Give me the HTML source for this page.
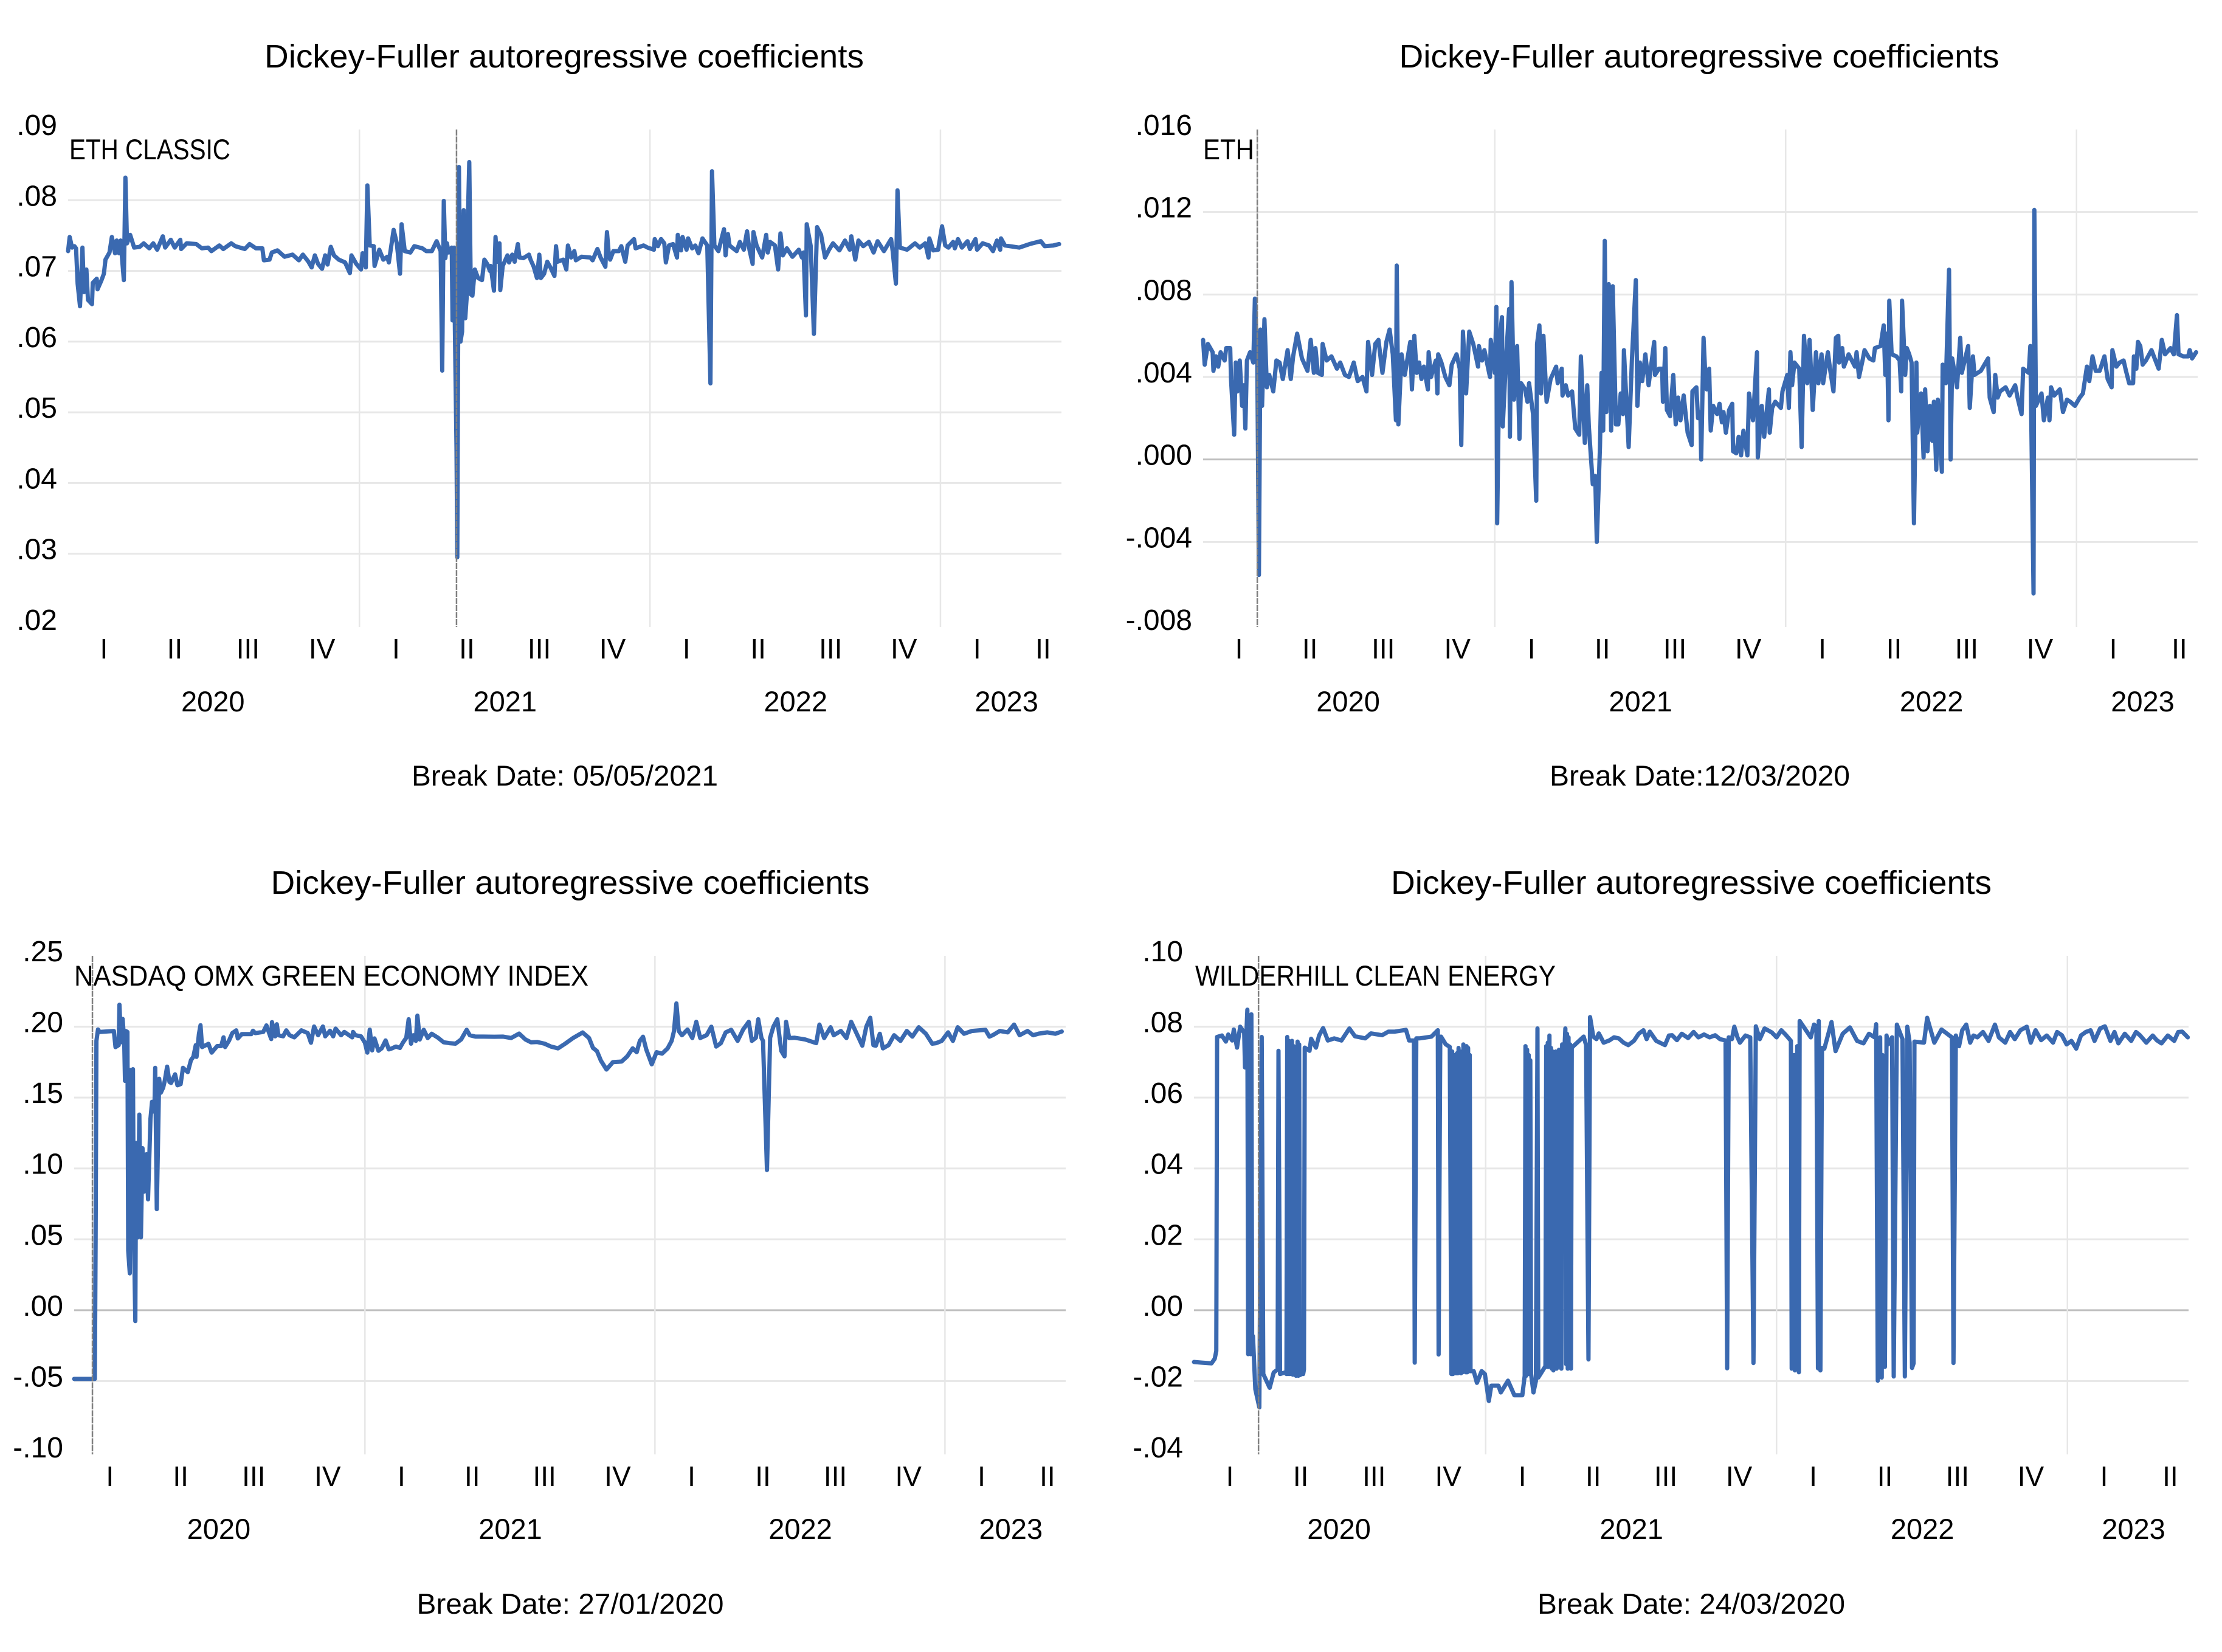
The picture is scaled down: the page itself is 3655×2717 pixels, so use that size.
<!DOCTYPE html>
<html lang="en">
<head>
<meta charset="utf-8">
<title>Dickey-Fuller autoregressive coefficients</title>
<style>
html,body{margin:0;padding:0;background:#fff;}
svg{display:block;}
text{font-family:"Liberation Sans",sans-serif;fill:#000;}
</style>
</head>
<body>
<svg id="figure" xmlns="http://www.w3.org/2000/svg" width="3655" height="2717" viewBox="0 0 3655 2717">
  <rect x="0" y="0" width="3655" height="2717" fill="#ffffff"/>

  <g id="panel-classic"></g>
  <g id="panel-eth"></g>
  <g id="panel-nasdaq"></g>
  <g id="panel-wilder"></g>

  <text x="928" y="111" text-anchor="middle" font-size="54" textLength="986" lengthAdjust="spacingAndGlyphs">Dickey-Fuller autoregressive coefficients</text>
  <text x="2795" y="111" text-anchor="middle" font-size="54" textLength="987" lengthAdjust="spacingAndGlyphs">Dickey-Fuller autoregressive coefficients</text>
  <text x="938" y="1470" text-anchor="middle" font-size="54" textLength="985" lengthAdjust="spacingAndGlyphs">Dickey-Fuller autoregressive coefficients</text>
  <text x="2782" y="1470" text-anchor="middle" font-size="54" textLength="988" lengthAdjust="spacingAndGlyphs">Dickey-Fuller autoregressive coefficients</text>

  <text x="114" y="262" font-size="47" textLength="265" lengthAdjust="spacingAndGlyphs">ETH CLASSIC</text>
  <text x="1979" y="262" font-size="47" textLength="84" lengthAdjust="spacingAndGlyphs">ETH</text>
  <text x="122" y="1621" font-size="47" textLength="846" lengthAdjust="spacingAndGlyphs">NASDAQ OMX GREEN ECONOMY INDEX</text>
  <text x="1966" y="1621" font-size="47" textLength="593" lengthAdjust="spacingAndGlyphs">WILDERHILL CLEAN ENERGY</text>

  <text x="929" y="1292" text-anchor="middle" font-size="47" textLength="504" lengthAdjust="spacingAndGlyphs">Break Date: 05/05/2021</text>
  <text x="2796" y="1292" text-anchor="middle" font-size="47" textLength="494" lengthAdjust="spacingAndGlyphs">Break Date:12/03/2020</text>
  <text x="938" y="2654" text-anchor="middle" font-size="47" textLength="505" lengthAdjust="spacingAndGlyphs">Break Date: 27/01/2020</text>
  <text x="2782" y="2654" text-anchor="middle" font-size="47" textLength="506" lengthAdjust="spacingAndGlyphs">Break Date: 24/03/2020</text>
</svg>

<script>
/* Shared time axis: day number counted from 1 January 2020 */
const lastDay = 1248;
const quarterLabels = ["I","II","III","IV","I","II","III","IV","I","II","III","IV","I","II"];
const quarterDays = [45,134,226,319,412,501,592,684,777,867,958,1050,1142,1225];
const yearLabels = ["2020","2021","2022","2023"];
const yearLabelDays = [182,549,914,1179];
const yearStartDays = [366,731,1096];

/* ETH CLASSIC */
const classicTicks = [.09,.08,.07,.06,.05,.04,.03,.02];
const classicTickLabels = [".09",".08",".07",".06",".05",".04",".03",".02"];
const classicBreakDay = 488;
const classicDays = [
0,2,5,8,10,12,15,18,20,23,
25,30,31,36,37,42,45,47,52,55,
59,61,64,66,70,72,74,78,83,90,
95,102,107,112,119,122,129,134,141,142,
149,161,168,176,180,190,195,205,210,222,
228,236,244,246,253,256,263,272,282,290,
295,302,306,310,314,319,323,326,330,334,
340,348,354,356,362,368,370,374,376,379,
384,385,391,396,401,403,409,413,417,419,
423,430,435,445,450,457,463,468,470,472,
474,476,478,482,483,485,486,488,489,490,
491,493,495,497,499,501,502,504,506,508,
511,515,520,523,527,530,531,535,537,539,
542,543,546,552,554,558,561,565,567,572,
579,581,585,589,592,594,598,602,606,611,
613,615,622,626,628,632,636,638,645,656,
659,665,669,675,677,679,681,685,692,695,
700,703,711,713,723,728,736,737,741,745,
749,751,755,760,765,766,770,772,777,779,
784,788,792,797,803,807,809,812,817,824,
826,829,831,840,844,849,853,856,860,861,
865,872,877,879,882,888,892,895,898,903,
910,918,922,924,927,928,933,937,941,946,
951,956,961,969,976,982,984,989,993,999,
1006,1012,1017,1025,1034,1036,1040,1042,1045,1054,
1064,1070,1077,1081,1082,1087,1093,1098,1102,1106,
1112,1114,1118,1123,1130,1133,1140,1142,1149,1157,
1162,1167,1171,1172,1177,1195,1208,1222,1227,1238,
1245];
const classicValues = [
.0728,.0748,.0733,.0735,.0732,.0682,.065,.0733,.067,.0702,
.0659,.0653,.0683,.0689,.0674,.0687,.0696,.0716,.0726,.0748,
.0725,.0743,.0725,.0743,.0687,.0832,.0739,.0751,.0733,.0734,
.0739,.0732,.0739,.073,.0749,.0733,.0744,.0733,.0744,.0731,
.0739,.0738,.0732,.0733,.0728,.0736,.0731,.0739,.0735,.0731,
.0738,.0732,.0732,.0715,.0716,.0726,.0729,.072,.0723,.0715,
.0723,.0713,.0705,.0722,.071,.0703,.0722,.0709,.0734,.0722,
.0716,.0712,.0697,.0722,.071,.0702,.0725,.0705,.0821,.0736,
.0735,.0707,.073,.0716,.072,.0712,.0758,.0739,.0696,.0766,
.0728,.0726,.0735,.0732,.0728,.0728,.0742,.0728,.0559,.0799,
.0718,.0739,.0726,.0733,.063,.0733,.0616,.045,.0295,.06,
.0847,.06,.0614,.0786,.0633,.0667,.0762,.0854,.0667,.0665,
.0702,.069,.0687,.0716,.0709,.07,.0707,.0672,.0748,.0713,
.0739,.0673,.0707,.0722,.0712,.0723,.0713,.0738,.0719,.0718,
.0723,.0716,.0706,.069,.0723,.069,.0696,.0713,.0705,.0693,
.0735,.0713,.0716,.0702,.0736,.0719,.0728,.0715,.072,.0719,
.0715,.0731,.0719,.0706,.0755,.0728,.0716,.0728,.0728,.0735,
.0713,.0736,.0745,.0732,.0736,.0733,.073,.0745,.0735,.0745,
.0739,.0712,.0736,.0738,.0719,.0751,.0729,.0748,.073,.0746,
.0732,.0736,.0725,.0746,.0736,.0541,.0841,.0736,.0728,.0759,
.0722,.0752,.0736,.0728,.0741,.073,.0756,.073,.071,.0755,
.0736,.0719,.0751,.0726,.0741,.0736,.0702,.0753,.0722,.0732,
.072,.073,.0719,.0726,.0637,.0766,.0735,.0611,.0762,.0751,
.0719,.073,.0739,.0729,.0743,.073,.0749,.0716,.0743,.0735,
.0741,.0726,.0742,.0728,.0745,.0728,.0682,.0814,.0733,.073,
.0739,.0733,.0739,.0719,.0746,.0729,.073,.0763,.0736,.0733,
.0741,.0732,.0745,.0733,.0742,.0731,.0745,.073,.0739,.0736,
.0728,.0743,.073,.0746,.0736,.0733,.0738,.0742,.0735,.0736,
.0738];

/* ETH */
const ethTicks = [.016,.012,.008,.004,0,-.004,-.008];
const ethTickLabels = [".016",".012",".008",".004",".000","-.004","-.008"];
const ethBreakDay = 68;
const ethDays = [
0,2,6,12,13,16,19,22,27,29,
34,35,39,41,43,46,49,51,53,55,
59,63,65,68,70,72,74,77,80,83,
88,92,96,100,106,110,113,118,124,131,
135,139,141,144,149,150,155,161,168,172,
178,183,189,194,200,205,207,212,216,220,
225,230,234,238,242,243,245,249,253,260,
262,265,268,271,274,277,282,283,286,292,
294,295,299,304,309,312,318,322,324,326,
330,334,339,345,346,350,353,360,361,366,
368,369,372,375,376,380,384,385,387,390,
394,397,399,404,407,409,414,418,419,422,
424,427,431,436,443,445,450,451,455,458,
463,467,472,474,479,482,484,489,492,494,
498,500,502,504,506,509,512,514,518,521,
524,527,528,534,538,543,545,548,551,555,
559,566,567,572,576,577,580,582,586,590,
593,596,599,603,608,613,614,619,621,624,
625,628,630,632,635,637,640,645,648,651,
653,656,660,664,665,669,672,675,678,683,
685,690,695,696,701,704,710,711,714,718,
725,727,733,735,737,739,742,748,751,754,
758,761,765,769,772,776,778,784,787,791,
794,797,798,802,804,810,818,820,823,828,
830,836,841,843,850,854,856,858,860,861,
864,870,874,876,877,881,883,886,889,892,
895,896,901,904,906,909,912,915,917,920,
922,927,928,932,936,938,940,946,950,952,
960,962,966,968,976,985,987,992,994,997,
1000,1007,1012,1019,1022,1027,1029,1036,1038,1042,
1043,1045,1052,1055,1060,1062,1064,1068,1075,1079,
1084,1088,1094,1100,1104,1109,1112,1116,1120,1125,
1131,1135,1140,1141,1146,1150,1155,1158,1162,1167,
1168,1171,1173,1176,1179,1183,1190,1194,1199,1203,
1207,1214,1218,1222,1224,1230,1236,1238,1241,1246];
const ethValues = [
.0058,.0046,.0056,.0052,.0043,.005,.0045,.0052,.0048,.0054,
.0054,.0039,.0012,.0047,.0033,.0048,.0026,.0036,.0015,.0048,
.0052,.0047,.0078,.0049,-.0056,.0063,.0026,.0068,.0035,.0041,
.0033,.0048,.0047,.0039,.0053,.0039,.005,.0061,.0049,.0043,
.0058,.0042,.0054,.0042,.0041,.0056,.0048,.005,.0044,.0047,
.0041,.004,.0047,.0038,.004,.0033,.0057,.0041,.0056,.0058,
.0042,.0057,.0063,.0051,.0019,.0094,.0017,.0051,.0041,.0057,
.0034,.006,.0042,.0047,.0039,.0045,.0034,.0052,.004,.0048,
.0032,.0051,.0047,.004,.0036,.0046,.0051,.0044,.0007,.0062,
.0032,.0062,.0056,.0045,.0055,.0048,.0053,.004,.0058,.0042,
.0074,-.0031,.0058,.0069,.0016,.0048,.0073,.0011,.0086,.0029,
.0055,.001,.0037,.0034,.0028,.0037,.0022,-.002,.0056,.0065,
.0032,.006,.0028,.0039,.0045,.0037,.0044,.0031,.0036,.0031,
.0033,.0015,.0012,.005,.0008,.0036,.0016,-.0012,-.0008,-.004,
.0006,.0042,.0014,.0106,.0023,.0085,.0014,.0084,.0017,.0017,
.0032,.0022,.0053,.0006,.0048,.0087,.0026,.0047,.0038,.0051,
.0036,.0057,.0041,.0044,.0044,.0028,.0054,.0024,.0021,.0041,
.0017,.003,.0019,.0031,.0013,.0007,.0033,.0035,.002,.0023,
0,.0059,.0042,.0034,.0044,.0014,.0026,.0022,.0027,.0018,
.0023,.0013,.0024,.0027,.0004,.0003,.0011,.0002,.0014,.0002,
.0032,.0019,.0052,.0001,.0026,.0011,.0034,.0013,.0025,.0028,
.0025,.0033,.0041,.0025,.0052,.0036,.0047,.0044,.0006,.006,
.0037,.0058,.0024,.0052,.0037,.0051,.0037,.0052,.0043,.0033,
.0059,.006,.0047,.0054,.0045,.0051,.0045,.0052,.004,.0049,
.0053,.0049,.0048,.0054,.0055,.0065,.0041,.0061,.0019,.0077,
.0051,.005,.0048,.0033,.0077,.0041,.0054,.0051,.0047,-.0031,
.0047,.0013,.0032,.0001,.0034,.0004,.0026,.0009,.0028,-.0005,
.0029,-.0006,.0046,.0037,.0092,0,.0049,.0035,.0059,.0042,
.0055,.0025,.005,.0041,.0043,.0049,.003,.0023,.0041,.003,
.0033,.0035,.0031,.0036,.003,.0022,.0044,.0042,.0055,-.0065,
.0121,.0026,.0032,.0019,.003,.0019,.0035,.0031,.0034,.0023,
.0029,.0028,.0026,.003,.0032,.0045,.0038,.005,.0043,.0043,
.005,.0039,.0035,.0053,.0045,.0047,.0048,.0043,.0037,.0037,
.005,.0044,.0057,.0055,.0046,.0048,.0053,.0049,.0044,.0058,
.0051,.0054,.0051,.007,.0051,.005,.005,.0053,.0049,.0052];

/* NASDAQ OMX GREEN ECONOMY INDEX */
const nasdaqTicks = [.25,.20,.15,.10,.05,0,-.05,-.10];
const nasdaqTickLabels = [".25",".20",".15",".10",".05",".00","-.05","-.10"];
const nasdaqBreakDay = 23;
const nasdaqDays = [
0,26,27,28,30,32,50,52,56,57,
59,61,63,64,65,67,68,70,71,73,
74,75,77,78,80,82,84,86,88,91,
93,96,98,101,102,104,107,109,112,114,
117,120,122,127,130,134,137,143,147,150,
153,154,157,159,161,169,173,180,185,188,
190,195,199,204,206,211,223,225,228,238,
242,248,249,253,255,257,263,267,271,277,
286,294,298,302,307,313,316,322,326,329,
336,340,350,351,354,361,366,369,372,375,
378,383,387,392,396,400,405,410,414,418,
421,424,427,430,432,435,440,445,450,458,
465,472,480,487,494,498,505,515,529,540,
550,560,568,575,583,592,600,609,618,628,
640,648,653,658,663,670,678,689,696,703,
708,712,716,720,727,733,740,747,752,755,
758,761,765,772,778,783,788,796,802,808,
814,820,827,835,842,849,853,858,861,865,
867,872,876,880,885,890,894,896,900,907,
920,934,938,944,952,956,965,972,978,985,
992,997,1002,1006,1009,1014,1018,1025,1032,1040,
1048,1055,1063,1072,1080,1085,1092,1100,1106,1112,
1120,1130,1147,1152,1156,1165,1175,1183,1190,1200,
1207,1214,1225,1235,1243];
const nasdaqValues = [
-.0485,-.0485,.05,.19,.198,.1963,.197,.1856,.187,.2155,
.189,.2055,.19,.1618,.197,.1963,.042,.026,.1695,.0696,
.17,.06,-.0077,.118,.0514,.138,.0514,.1143,.0836,.11,
.0782,.135,.147,.14,.171,.0713,.1633,.1534,.157,.1618,
.1718,.161,.1603,.1664,.1587,.1595,.171,.168,.1764,.1787,
.187,.1787,.1948,.201,.1856,.1879,.1817,.1863,.1863,.1925,
.1856,.1902,.1955,.1974,.1917,.1948,.1948,.1971,.1955,.1963,
.2009,.1913,.2032,.1932,.2017,.194,.1932,.1974,.194,.1925,
.1974,.1955,.1887,.2001,.194,.2001,.1932,.1971,.1932,.1986,
.194,.1963,.1925,.1963,.194,.1932,.1887,.1817,.1979,.1833,
.1917,.183,.1847,.1903,.184,.1847,.186,.185,.189,.1922,
.2052,.188,.194,.19,.2078,.191,.1978,.192,.195,.1922,
.189,.1884,.188,.191,.1978,.194,.193,.193,.1929,.193,
.192,.1951,.191,.189,.1892,.188,.186,.1847,.188,.192,
.1959,.192,.185,.1828,.176,.1698,.175,.1754,.179,.1847,
.182,.19,.1929,.184,.1735,.182,.181,.1847,.19,.197,
.2164,.197,.194,.198,.192,.2034,.192,.194,.2,.186,
.1884,.196,.1978,.19,.198,.2034,.19,.1922,.2052,.192,
.19,.0989,.1922,.2,.2052,.183,.1791,.2034,.192,.1922,
.191,.1884,.2015,.192,.1996,.194,.197,.192,.2034,.195,
.1866,.2,.2063,.187,.1866,.195,.1847,.187,.194,.19,
.197,.193,.1996,.195,.188,.1884,.19,.196,.19,.1996,
.195,.197,.1978,.193,.194,.197,.196,.2015,.194,.197,
.194,.1951,.196,.195,.1966];

/* WILDERHILL CLEAN ENERGY */
const wilderTicks = [.10,.08,.06,.04,.02,0,-.02,-.04];
const wilderTickLabels = [".10",".08",".06",".04",".02",".00","-.02","-.04"];
const wilderBreakDay = 81;
const wilderDays = [
0,10,22,26,28,29,35,40,43,48,
50,54,58,63,64,67,68,70,71,72,
73,74,77,82,85,87,95,100,105,106,
108,114,116,117,118,119,120,121,122,123,
124,125,126,127,128,130,131,132,133,135,
137,138,139,145,147,153,157,162,168,176,
185,195,202,215,222,236,244,252,266,270,
276,277,279,283,298,306,307,309,310,316,
321,323,324,325,326,327,328,329,330,331,
332,333,334,335,336,337,338,339,340,341,
342,343,344,345,346,347,351,355,361,365,
370,373,382,385,394,402,412,415,416,417,
418,419,420,421,422,423,426,429,431,432,
441,442,443,444,445,446,447,448,449,450,
451,452,453,454,455,456,457,458,459,460,
461,462,463,464,465,466,467,468,469,470,
471,472,473,474,476,489,492,495,497,501,
505,508,514,521,527,533,539,545,552,558,
564,568,572,580,591,596,600,606,612,620,
627,633,640,647,654,660,667,669,671,675,
678,682,685,692,698,702,705,710,716,725,
731,737,743,749,750,753,754,757,759,760,
774,778,781,783,784,786,788,791,800,805,
814,823,832,840,847,854,856,858,861,863,
864,867,869,871,876,878,882,889,892,895,
898,901,903,904,916,920,929,938,951,953,
956,960,964,969,974,978,983,990,997,1005,
1010,1018,1024,1030,1037,1045,1050,1056,1063,1070,
1078,1083,1089,1095,1101,1107,1113,1119,1125,1130,
1137,1143,1150,1155,1160,1168,1176,1182,1187,1195,
1203,1208,1214,1222,1230,1235,1240,1247];
const wilderValues = [
-.0146,-.0148,-.015,-.0137,-.0115,.0771,.0775,.0758,.0778,.0761,
.0792,.0741,.08,.0783,.0685,.0848,-.0124,.082,-.0124,.0835,
-.0124,-.0073,-.0223,-.0274,.0771,-.018,-.0219,-.0176,-.0167,.0732,
-.018,-.0176,-.018,.0771,-.018,.076,-.018,.0755,-.018,.076,
-.0182,.0745,-.018,.074,-.0185,.0758,-.0185,.075,-.0183,-.018,
-.018,-.0167,.0741,.0732,.0766,.0741,.0775,.0796,.0761,.0767,
.0761,.0795,.0773,.0767,.0781,.0776,.0786,.0786,.0791,.0761,
.0761,-.0148,.0767,.0767,.0772,.079,-.0125,.0765,.0772,.075,
.0743,-.018,.073,-.018,.072,-.0178,.072,-.0178,.0725,-.0178,
.074,-.0175,.073,-.0178,.0725,-.0175,.075,-.0172,.0735,-.0175,
.0745,-.0175,.074,-.0172,.072,-.0172,-.0172,-.0205,-.0172,-.018,
-.0256,-.0213,-.0213,-.0232,-.0199,-.024,-.024,-.0185,.0745,-.0185,
.0735,-.018,.072,-.018,.0705,-.018,-.0232,-.02,.0795,-.019,
-.0158,.0745,-.016,.0755,-.016,.0775,-.014,.074,-.0165,.073,
-.017,.0725,-.0165,.073,-.0165,.072,-.016,.0735,-.015,.0735,
-.0165,.075,.0745,.065,.0745,.0795,-.0152,.078,-.0165,.077,
-.016,.075,-.0165,.074,.0745,.0772,.0748,-.0139,.0827,.0772,
.0765,.0781,.0755,.0761,.077,.0767,.0755,.0748,.076,.078,
.079,.0765,.0786,.076,.0748,.0775,.0776,.0762,.078,.0768,
.0785,.077,.0778,.077,.0776,.0765,.0761,-.0164,.077,.0765,
.08,.077,.0755,.0775,.077,-.0149,.0801,.0765,.0795,.0784,
.077,.079,.0776,.076,-.0165,.072,-.017,.0745,-.0175,.0816,
.077,.0806,.08,-.0164,.0816,-.017,.074,.0738,.0813,.0731,
.078,.0798,.076,.0753,.078,.077,.0807,-.0199,.077,-.019,
.072,-.016,.0775,.075,.077,-.0187,.0806,.0765,-.0187,.08,
.0755,-.0163,-.015,.0758,.0755,.0825,.0755,.0792,.077,-.0149,
.0775,.0745,.079,.0806,.0755,.0775,.077,.0785,.076,.0806,
.077,.0755,.0785,.0765,.079,.08,.0755,.079,.0762,.0775,
.0755,.0785,.0776,.075,.076,.0738,.0775,.0785,.079,.076,
.0795,.0801,.076,.0785,.0753,.078,.076,.0785,.0776,.0755,
.0775,.0762,.0753,.0775,.076,.0785,.0786,.077];

const SVG_NS = "http://www.w3.org/2000/svg";

function drawChart(panelId, box, ticks, tickLabels, zeroLine, days, values, breakDay) {
  const panel = document.getElementById(panelId);
  const xScale = function (day) {
    return box.left + (day / lastDay) * (box.right - box.left);
  };
  const yScale = function (value) {
    const hi = ticks[0];
    const lo = ticks[ticks.length - 1];
    return box.top + ((hi - value) / (hi - lo)) * (box.bottom - box.top);
  };

  for (let i = 0; i < ticks.length; i++) {
    const tickY = yScale(ticks[i]);
    if (i > 0 && i < ticks.length - 1) {
      const grid = document.createElementNS(SVG_NS, "line");
      
      
      grid.setAttribute("x1", box.left);
      grid.setAttribute("x2", box.right);
      grid.setAttribute("y1", tickY);
      grid.setAttribute("y2", tickY);
      grid.setAttribute("stroke", zeroLine && ticks[i] === 0 ? "#bfbfbf" : "#e7e7e7");
      grid.setAttribute("stroke-width", "3");
      panel.appendChild(grid);
    }
    const tickText = document.createElementNS(SVG_NS, "text");
    
    
    tickText.setAttribute("x", box.left - 18);
    tickText.setAttribute("y", tickY + 9);
    tickText.setAttribute("text-anchor", "end");
    tickText.setAttribute("font-size", "48");
    tickText.textContent = tickLabels[i];
    panel.appendChild(tickText);
  }

  for (let i = 0; i < yearStartDays.length; i++) {
    const divider = document.createElementNS(SVG_NS, "line");
    
    
    divider.setAttribute("x1", xScale(yearStartDays[i]));
    divider.setAttribute("x2", xScale(yearStartDays[i]));
    divider.setAttribute("y1", box.top);
    divider.setAttribute("y2", box.bottom + 4);
    divider.setAttribute("stroke", "#e7e7e7");
    divider.setAttribute("stroke-width", "2.5");
    panel.appendChild(divider);
  }

  let d = "";
  const count = Math.min(days.length, values.length);
  for (let i = 0; i < count; i++) {
    d += (i === 0 ? "M" : "L") + xScale(days[i]).toFixed(1) + " " + yScale(values[i]).toFixed(1);
  }
  const series = document.createElementNS(SVG_NS, "path");
  
  
  series.setAttribute("d", d);
  series.setAttribute("fill", "none");
  series.setAttribute("stroke", "#3a69b0");
  series.setAttribute("stroke-width", "7");
  series.setAttribute("stroke-linejoin", "round");
  series.setAttribute("stroke-linecap", "round");
  panel.appendChild(series);

  const breakLine = document.createElementNS(SVG_NS, "line");
  
  
  breakLine.setAttribute("x1", xScale(breakDay));
  breakLine.setAttribute("x2", xScale(breakDay));
  breakLine.setAttribute("y1", box.top);
  breakLine.setAttribute("y2", box.bottom + 4);
  breakLine.setAttribute("stroke", "#808080");
  breakLine.setAttribute("stroke-width", "2.5");
  breakLine.setAttribute("stroke-dasharray", "10 1.5");
  panel.appendChild(breakLine);

  for (let i = 0; i < quarterLabels.length; i++) {
    const quarter = document.createElementNS(SVG_NS, "text");
    
    
    quarter.setAttribute("x", xScale(quarterDays[i]));
    quarter.setAttribute("y", box.bottom + 56);
    quarter.setAttribute("text-anchor", "middle");
    quarter.setAttribute("font-size", "46");
    quarter.textContent = quarterLabels[i];
    panel.appendChild(quarter);
  }

  for (let i = 0; i < yearLabels.length; i++) {
    const year = document.createElementNS(SVG_NS, "text");
    
    
    year.setAttribute("x", xScale(yearLabelDays[i]));
    year.setAttribute("y", box.bottom + 143);
    year.setAttribute("text-anchor", "middle");
    year.setAttribute("font-size", "47");
    year.textContent = yearLabels[i];
    panel.appendChild(year);
  }
}

drawChart("panel-classic", {left: 112, right: 1746, top: 213, bottom: 1027}, classicTicks, classicTickLabels, false, classicDays, classicValues, classicBreakDay);
drawChart("panel-eth", {left: 1979, right: 3615, top: 213, bottom: 1027}, ethTicks, ethTickLabels, true, ethDays, ethValues, ethBreakDay);
drawChart("panel-nasdaq", {left: 122, right: 1753, top: 1572, bottom: 2388}, nasdaqTicks, nasdaqTickLabels, true, nasdaqDays, nasdaqValues, nasdaqBreakDay);
drawChart("panel-wilder", {left: 1964, right: 3600, top: 1572, bottom: 2388}, wilderTicks, wilderTickLabels, true, wilderDays, wilderValues, wilderBreakDay);
</script>
</body>
</html>
